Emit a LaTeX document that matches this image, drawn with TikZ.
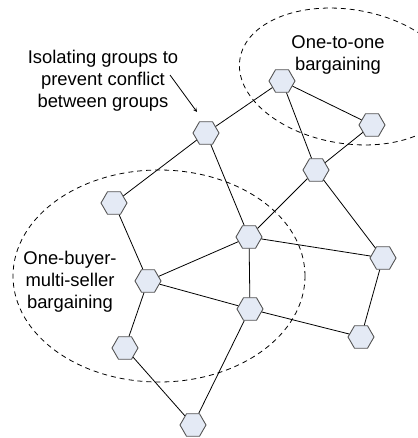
\documentclass[tikz,border=0pt]{standalone}
\usepackage{fontspec}
\setmainfont{Liberation Sans}
\usetikzlibrary{shapes.geometric}

\definecolor{hexfill}{HTML}{E4EAF5}
\definecolor{hexline}{HTML}{555555}

\tikzset{
  peer/.style={regular polygon, regular polygon sides=6, minimum size=26pt,
    inner sep=0pt, draw=hexline, fill=hexfill, line width=0.9pt},
  link/.style={line width=0.8pt},
  region/.style={line width=0.8pt, dash pattern=on 5pt off 4pt},
  note/.style={font=\fontsize{18.4}{22}\selectfont, align=center, inner sep=0pt}
}

\begin{document}
\begin{tikzpicture}[x=1pt, y=-1pt]
  \useasboundingbox (0,0) rectangle (417,438);

  % the two groups
  \draw[region, rotate around={-9.4:(347.5,76.5)}] (347.5,76.5) ellipse [x radius=109pt, y radius=67pt];
  \draw[region] (159,276) ellipse [x radius=146pt, y radius=106pt];

  \node[note] at (103,81) (isolate) {Isolating groups to\\prevent conflict\\between groups};
  \node[note] at (338,55) (onetoone) {One-to-one\\bargaining};
  \node[note] at (70,282) (onemulti) {One-buyer-\\multi-seller\\bargaining};

  \coordinate (tail) at (170,75);
  \coordinate (tip) at (197,112);
  \draw[link, ->, >=stealth] (tail) -- (tip);

  % peers
  \node[peer] at (206,133) (a) {};
  \node[peer] at (282,81) (b) {};
  \node[peer] at (372,125) (c) {};
  \node[peer] at (316,170) (d) {};
  \node[peer] at (114,203) (e) {};
  \node[peer] at (249,237) (f) {};
  \node[peer] at (383,258) (g) {};
  \node[peer] at (148,281) (h) {};
  \node[peer] at (250,309) (i) {};
  \node[peer] at (361,337) (j) {};
  \node[peer] at (125,348) (k) {};
  \node[peer] at (193,425) (l) {};

  \foreach \u/\v in {a/b, a/e, a/f, b/c, b/d, c/d, d/f, d/g, f/g, f/h, f/i,
                     e/h, h/i, h/k, k/l, i/l, i/j, g/j}
    \draw[link] (\u) -- (\v);
\end{tikzpicture}
\end{document}
